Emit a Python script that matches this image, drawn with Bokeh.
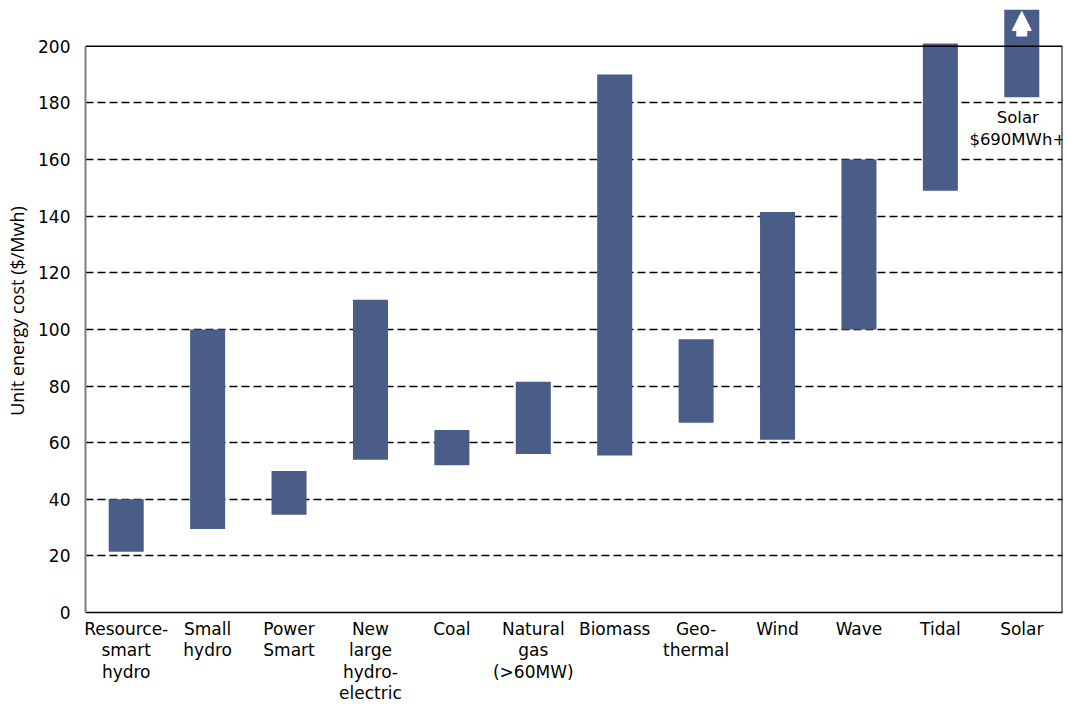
from bokeh.plotting import figure
from bokeh.models import (Range1d, FixedTicker, Span, Label, Arrow, NormalHead)
from bokeh.embed import file_html
from bokeh.resources import INLINE

categories = ["Resource-\nsmart\nhydro", "Small\nhydro", "Power\nSmart",
              "New\nlarge\nhydro-\nelectric", "Coal", "Natural\ngas\n(>60MW)",
              "Biomass", "Geo-\nthermal", "Wind", "Wave", "Tidal", "Solar"]
low_cost = [21.5, 29.5, 34.5, 54, 52, 56, 55.5, 67, 61, 100, 149, 182]
high_cost = [40, 100, 50, 110.5, 64.5, 81.5, 190, 96.5, 141.5, 160, 201, 213]
y_ticks = [0, 20, 40, 60, 80, 100, 120, 140, 160, 180, 200]
grid_ticks = [20, 40, 60, 80, 100, 120, 140, 160, 180]

BAR = "#4a5d88"
FONT = "DejaVu Sans"

n = len(categories)
xs = [i + 0.5 for i in range(n)]

p = figure(width=1068, height=706, output_backend="svg", toolbar_location=None,
           x_range=Range1d(0, n), y_range=Range1d(0, 213),
           min_border_left=85, min_border_right=6, min_border_top=9,
           min_border_bottom=92)
p.outline_line_color = None
p.background_fill_color = "white"
p.border_fill_color = "white"

p.vbar(x=xs, bottom=low_cost, top=high_cost, width=0.43, fill_color=BAR,
       line_color=None)

# axes
p.yaxis.ticker = FixedTicker(ticks=y_ticks)
p.yaxis.bounds = (0, 200)
p.yaxis.major_tick_line_color = None
p.yaxis.minor_tick_line_color = None
p.yaxis.axis_line_color = "#7f7f7f"
p.yaxis.axis_line_width = 2
p.yaxis.major_label_text_font = FONT
p.yaxis.major_label_text_font_size = "17px"
p.yaxis.major_label_text_color = "black"
p.yaxis.major_label_standoff = 9
p.yaxis.axis_label = "Unit energy cost ($/Mwh)"
p.yaxis.axis_label_text_font = "Open Sans"
p.yaxis.axis_label_text_font_style = "normal"
p.yaxis.axis_label_text_font_size = "18px"
p.yaxis.axis_label_text_color = "black"
p.yaxis.axis_label_standoff = 6

p.xaxis.ticker = FixedTicker(ticks=xs)
p.xaxis.major_label_overrides = {x: c for x, c in zip(xs, categories)}
p.xaxis.major_tick_line_color = None
p.xaxis.minor_tick_line_color = None
p.xaxis.axis_line_color = "black"
p.xaxis.axis_line_width = 1.5
p.xaxis.major_label_text_font = FONT
p.xaxis.major_label_text_font_size = "17px"
p.xaxis.major_label_text_color = "black"
p.xaxis.major_label_text_line_height = 1.08
p.xaxis.major_label_standoff = 0

# grid
p.xgrid.grid_line_color = None
p.ygrid.ticker = FixedTicker(ticks=grid_ticks)
p.ygrid.grid_line_color = "black"
p.ygrid.grid_line_dash = "8 4"
p.ygrid.grid_line_width = 1.3

# frame top and right
p.add_layout(Span(location=200, dimension="width", line_color="black", line_width=1.5))
p.segment(x0=[n], y0=[0], x1=[n], y1=[200], line_color="black", line_width=2)

# solar arrow and note
p.add_layout(Arrow(x_start=xs[-1], y_start=203.5, x_end=xs[-1], y_end=212.3,
                   line_color="white", line_width=11,
                   end=NormalHead(size=19, fill_color="white", line_color="white")))
p.add_layout(Label(x=xs[-1], y=171, x_offset=-4, text="Solar\n$690MWh+",
                   text_align="center", text_baseline="middle", text_font=FONT,
                   text_font_size="16.5px", text_color="black",
                   text_line_height=1.15))

open("out.html", "w").write(file_html(p, INLINE))
